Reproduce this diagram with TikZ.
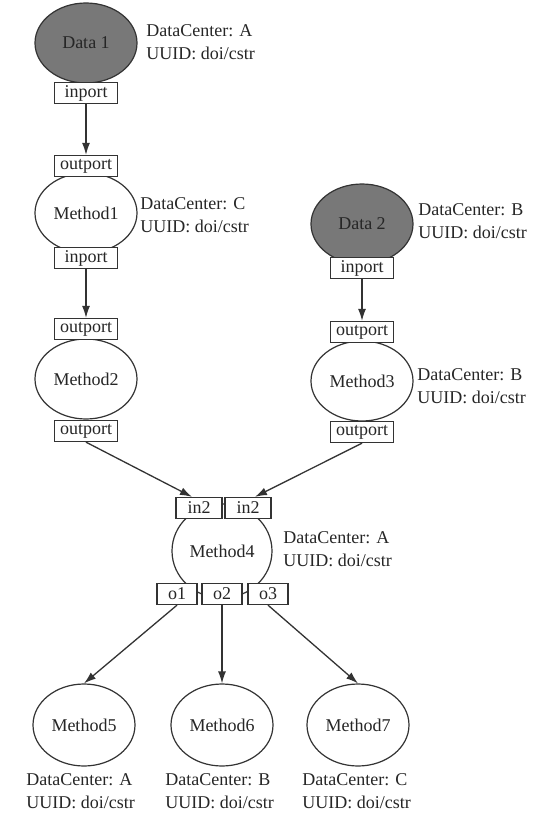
\documentclass[tikz,border=0pt]{standalone}
\usepackage{fontspec}
\setmainfont{Liberation Serif}
\usetikzlibrary{shapes.geometric,arrows.meta}

\begin{document}
\begin{tikzpicture}[x=0.5pt, y=-0.5pt,
    every node/.style={font=\fontsize{9}{11.5}\selectfont, text=black!85},
    data/.style={ellipse, draw=black!80, line width=0.6pt, fill=black!53, minimum width=51pt, minimum height=40pt, inner sep=0pt},
    method/.style={ellipse, draw=black!80, line width=0.6pt, fill=white, minimum width=51pt, minimum height=40pt, inner sep=0pt},
    port/.style={rectangle, draw=black!80, line width=0.65pt, fill=white, minimum width=31.5pt, minimum height=10.5pt, inner sep=0pt},
    inport/.style={port, minimum width=23pt},
    oport/.style={port, minimum width=20pt},
    info/.style={anchor=west, align=left, inner sep=0pt},
    flow/.style={->, >={Latex[length=6pt,width=4pt]}, draw=black!80, line width=0.65pt}]
        \useasboundingbox (0,0) rectangle (545,819);
        % left column
        \node[data] (d1) at (86,43) {Data 1};
        \node[port] (d1in) at (86,93) {inport};
        \node[info] (d1info) at (146,42) {DataCenter: A\\UUID: doi/cstr};
        \node[method] (m1) at (86,213) {Method1};
        \node[port] (m1out) at (86,166) {outport};
        \node[port] (m1in) at (86,258) {inport};
        \node[info] (m1info) at (140,215) {DataCenter: C\\UUID: doi/cstr};
        \node[method] (m2) at (86,379) {Method2};
        \node[port] (m2out) at (86,329) {outport};
        \node[port] (m2outb) at (86,431) {outport};
        % right column
        \node[data] (d2) at (362,224) {Data 2};
        \node[port] (d2in) at (362,268) {inport};
        \node[info] (d2info) at (418,221) {DataCenter: B\\UUID: doi/cstr};
        \node[method] (m3) at (362,381) {Method3};
        \node[port] (m3out) at (362,332) {outport};
        \node[port] (m3outb) at (362,432) {outport};
        \node[info] (m3info) at (417,386) {DataCenter: B\\UUID: doi/cstr};
        % merge
        \node[method, minimum width=50pt, minimum height=47pt] (m4) at (222,551) {Method4};
        \node[inport] (in2a) at (199,508) {in2};
        \node[inport] (in2b) at (248,508) {in2};
        \node[oport] (o1) at (177,594) {o1};
        \node[oport] (o2) at (222,594) {o2};
        \node[oport] (o3) at (268,594) {o3};
        \node[info] (m4info) at (283,549) {DataCenter: A\\UUID: doi/cstr};
        % outputs
        \node[method, minimum height=41pt] (m5) at (84,725) {Method5};
        \node[method, minimum height=41pt] (m6) at (222,725) {Method6};
        \node[method, minimum height=41pt] (m7) at (358,725) {Method7};
        \node[info] (m5info) at (26,791) {DataCenter: A\\UUID: doi/cstr};
        \node[info] (m6info) at (165,791) {DataCenter: B\\UUID: doi/cstr};
        \node[info] (m7info) at (302,791) {DataCenter: C\\UUID: doi/cstr};
        % flows
        \draw[flow] (d1in) -- (m1out);
        \draw[flow] (m1in) -- (m2out);
        \draw[flow] (d2in) -- (m3out);
        \draw[flow] (m2outb.south) -- ([xshift=-3.5pt]in2a.north);
        \draw[flow] (m3outb.south) -- ([xshift=3.5pt]in2b.north);
        \draw[flow] (o1.south) -- (m5.north);
        \draw[flow] (o2.south) -- (m6.north);
        \draw[flow] (o3.south) -- (m7.north);
\end{tikzpicture}
\end{document}
